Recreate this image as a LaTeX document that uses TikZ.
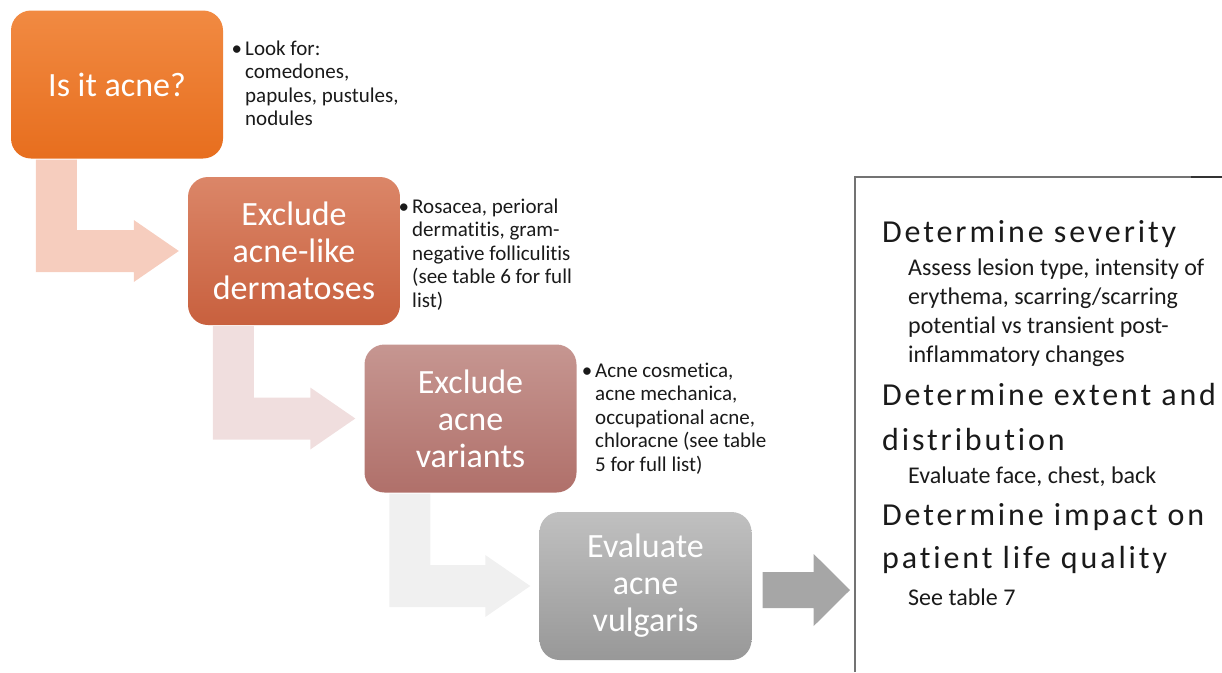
\documentclass[tikz,border=0pt]{standalone}
\usepackage{fontspec}
\setmainfont{Carlito}[Ligatures=NoCommon]
\newfontfamily\headfont[LetterSpace=9,Ligatures=NoCommon]{Carlito}
\usetikzlibrary{positioning,calc}

\definecolor{orangetop}{RGB}{241,138,66}
\definecolor{orangebot}{RGB}{231,110,30}
\definecolor{rusttop}{RGB}{219,134,104}
\definecolor{rustbot}{RGB}{200,96,62}
\definecolor{rosetop}{RGB}{198,150,145}
\definecolor{rosebot}{RGB}{176,112,106}
\definecolor{greytop}{RGB}{192,192,192}
\definecolor{greybot}{RGB}{152,152,152}
\definecolor{arrowA}{RGB}{246,205,190}
\definecolor{arrowB}{RGB}{240,222,222}
\definecolor{arrowC}{RGB}{240,240,240}
\definecolor{arrowgrey}{RGB}{166,166,166}
\definecolor{inktext}{RGB}{26,26,26}

\tikzset{
  stage/.style={rounded corners=20pt, minimum width=212pt, minimum height=148pt,
    text=white, align=center, font=\fontsize{34}{37}\selectfont},
  note/.style={anchor=base west, align=left, inner sep=0pt, text=inktext,
    font=\fontsize{21}{23.5}\selectfont},
  headline/.style={anchor=base west, align=left, inner sep=0pt, text=inktext,
    font=\headfont\fontsize{32}{44}\selectfont},
  subline/.style={anchor=base west, align=left, inner sep=0pt, text=inktext,
    font=\fontsize{24}{29}\selectfont},
  panelline/.style={draw=black!55, line width=1.2pt}
}

\newcommand{\bulletmark}{\llap{\textbullet\hspace{3pt}}}

\begin{document}
\begin{tikzpicture}[x=1pt,y=-1pt]
  \useasboundingbox (0,0) rectangle (1222,672);

  \node[stage, top color=orangetop, bottom color=orangebot] (isacne) at (117,84.5) {Is it acne?};
  \node[stage, top color=rusttop, bottom color=rustbot] (exclike) at (294,251) {Exclude\\acne-like\\dermatoses};
  \node[stage, top color=rosetop, bottom color=rosebot] (exclvar) at (470.5,418.5) {Exclude\\acne\\variants};
  \node[stage, top color=greytop, bottom color=greybot] (evalvul) at (645.5,586) {Evaluate\\acne\\vulgaris};

  % bent arrows between the steps
  \foreach \a/\b/\c in {isacne/exclike/arrowA, exclike/exclvar/arrowB, exclvar/evalvul/arrowC}
    \fill[\c] ($(\a.south west)+(25,1)$) -- ($(\a.south west)+(66,1)$)
      |- ($(\b.west)+(-54,-21)$) -- ++(0,-10) -- ($(\b.west)+(-9,0)$)
      -- ($(\b.west)+(-54,31)$) -- ++(0,-10) -| ($(\a.south west)+(25,1)$) -- cycle;

  % notes beside the boxes (placed at the baseline of their last line)
  \node[note] (lookfor) at (245,125.5) {\bulletmark Look for:\\comedones,\\papules, pustules,\\nodules};
  \node[note] (mimics) at (412,307) {\bulletmark Rosacea, perioral\\dermatitis, gram-\\negative folliculitis\\(see table 6 for full\\list)};
  \node[note] (variants) at (595,471) {\bulletmark Acne cosmetica,\\acne mechanica,\\occupational acne,\\chloracne (see table\\5 for full list)};

  % right panel
  \coordinate (panel) at (855,590);
  \draw[panelline] (855,672) -- (855,177) -- (1222,177);
  \draw[black!80, line width=1.4pt] (1191,177) -- (1222,177);
  \fill[arrowgrey] ($(evalvul.east)+(11,-14)$) -- ($(evalvul.east)+(62,-14)$)
    -- ($(evalvul.east)+(62,-32)$) -- ($(panel)+(-5,0)$) -- ($(evalvul.east)+(62,40)$)
    -- ($(evalvul.east)+(62,22)$) -- ($(evalvul.east)+(11,22)$) -- cycle;

  \node[headline] (severity) at (882,242) {Determine severity};
  \node[subline] (severitytxt) at (908,362) {Assess lesion type, intensity of\\erythema, scarring/scarring\\potential vs transient post-\\inflammatory changes};
  \node[headline, font=\headfont\fontsize{32}{45}\selectfont] (extent) at (882,450) {Determine extent and\\distribution};
  \node[subline] (extenttxt) at (908,483) {Evaluate face, chest, back};
  \node[headline, font=\headfont\fontsize{32}{43}\selectfont] (impact) at (882,568) {Determine impact on\\patient life quality};
  \node[subline] (impacttxt) at (908,605) {See table 7};
\end{tikzpicture}
\end{document}
